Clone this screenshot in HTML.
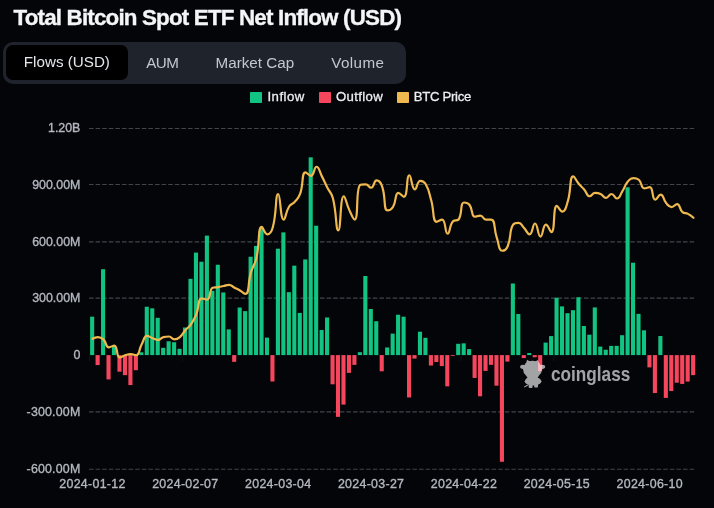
<!DOCTYPE html>
<html><head><meta charset="utf-8"><title>Total Bitcoin Spot ETF Net Inflow (USD)</title>
<style>
html,body{margin:0;padding:0;background:#030509;}
body{width:714px;height:508px;position:relative;overflow:hidden;font-family:"Liberation Sans",sans-serif;color:#fff;}
.title{position:absolute;left:13.5px;top:3.6px;font-size:22.4px;font-weight:700;color:#f4f5f7;-webkit-text-stroke:0.35px #f4f5f7;white-space:nowrap;letter-spacing:-0.83px;line-height:28px;}
.tabs{position:absolute;left:3.1px;top:41.9px;width:402.8px;height:41.8px;background:#1f232b;border-radius:10px;}
.tab{position:absolute;top:0;height:41px;line-height:41px;font-size:15.2px;color:#c3c7cf;white-space:nowrap;}
.tab.on{left:3.1px;top:3.2px;width:121.4px;height:34.8px;line-height:34.6px;background:#000;border-radius:7px;color:#e4e6ea;text-align:center;}
.lg{position:absolute;top:87.8px;height:17px;line-height:17px;font-size:13.2px;color:#eceef1;white-space:nowrap;-webkit-text-stroke:0.3px #eceef1;}
.sq{position:absolute;top:91.8px;width:11.6px;height:11.5px;border-radius:0.8px;}
.ax{font-family:"Liberation Sans",sans-serif;font-size:12.4px;fill:#b4b8bf;stroke:#b4b8bf;stroke-width:0.35px;}
.axx{letter-spacing:0.3px;}
</style></head><body>
<div class="title">Total Bitcoin Spot ETF Net Inflow (USD)</div>
<div class="tabs">
<div class="tab on">Flows (USD)</div>
<div class="tab" style="left:143.1px;letter-spacing:-0.5px">AUM</div>
<div class="tab" style="left:212.5px">Market Cap</div>
<div class="tab" style="left:328.2px;letter-spacing:0.4px">Volume</div>
</div>
<div class="sq" style="left:250.3px;background:#12c482"></div><div class="lg" style="left:267.5px;letter-spacing:0.45px">Inflow</div>
<div class="sq" style="left:319.3px;background:#f6465d"></div><div class="lg" style="left:336px;letter-spacing:0.33px">Outflow</div>
<div class="sq" style="left:397px;background:#f0b94f"></div><div class="lg" style="left:413.8px;letter-spacing:-0.33px">BTC Price</div>
<svg width="714" height="508" viewBox="0 0 714 508" style="position:absolute;left:0;top:0">
<line x1="89" x2="696" y1="128.50" y2="128.50" stroke="#414449" stroke-width="1.1" stroke-dasharray="4.55 2.05"/>
<line x1="89" x2="696" y1="184.50" y2="184.50" stroke="#414449" stroke-width="1.1" stroke-dasharray="4.55 2.05"/>
<line x1="89" x2="696" y1="241.85" y2="241.85" stroke="#414449" stroke-width="1.1" stroke-dasharray="4.55 2.05"/>
<line x1="89" x2="696" y1="298.10" y2="298.10" stroke="#414449" stroke-width="1.1" stroke-dasharray="4.55 2.05"/>
<line x1="89" x2="696" y1="411.90" y2="411.90" stroke="#414449" stroke-width="1.1" stroke-dasharray="4.55 2.05"/>
<line x1="89" x2="696" y1="469.20" y2="469.20" stroke="#414449" stroke-width="1.1" stroke-dasharray="4.55 2.05"/>
<line x1="89.42" x2="89.42" y1="355.6" y2="361" stroke="#10131a" stroke-width="1.1"/>
<line x1="182.30" x2="182.30" y1="355.6" y2="361" stroke="#10131a" stroke-width="1.1"/>
<line x1="275.18" x2="275.18" y1="355.6" y2="361" stroke="#10131a" stroke-width="1.1"/>
<line x1="368.06" x2="368.06" y1="355.6" y2="361" stroke="#10131a" stroke-width="1.1"/>
<line x1="460.95" x2="460.95" y1="355.6" y2="361" stroke="#10131a" stroke-width="1.1"/>
<line x1="553.83" x2="553.83" y1="355.6" y2="361" stroke="#10131a" stroke-width="1.1"/>
<line x1="646.71" x2="646.71" y1="355.6" y2="361" stroke="#10131a" stroke-width="1.1"/>
<line x1="695.88" x2="695.88" y1="355.6" y2="361" stroke="#10131a" stroke-width="1.1"/>
<g fill="#12c482"><rect x="90.10" y="316.68" width="4.1" height="38.42"/><rect x="101.03" y="269.21" width="4.1" height="85.89"/><rect x="111.95" y="346.58" width="4.1" height="8.52"/><rect x="139.27" y="352.30" width="4.1" height="2.80"/><rect x="144.74" y="306.72" width="4.1" height="48.38"/><rect x="150.20" y="308.33" width="4.1" height="46.77"/><rect x="155.66" y="317.81" width="4.1" height="37.29"/><rect x="161.13" y="347.83" width="4.1" height="7.27"/><rect x="166.59" y="341.26" width="4.1" height="13.84"/><rect x="172.05" y="342.23" width="4.1" height="12.87"/><rect x="177.52" y="348.78" width="4.1" height="6.32"/><rect x="182.98" y="327.52" width="4.1" height="27.58"/><rect x="188.45" y="278.83" width="4.1" height="76.27"/><rect x="193.91" y="252.61" width="4.1" height="102.49"/><rect x="199.37" y="261.73" width="4.1" height="93.37"/><rect x="204.84" y="235.62" width="4.1" height="119.48"/><rect x="210.30" y="290.79" width="4.1" height="64.31"/><rect x="215.76" y="264.74" width="4.1" height="90.36"/><rect x="221.23" y="292.45" width="4.1" height="62.65"/><rect x="226.69" y="329.40" width="4.1" height="25.70"/><rect x="237.62" y="307.52" width="4.1" height="47.58"/><rect x="243.08" y="311.13" width="4.1" height="43.97"/><rect x="248.55" y="256.74" width="4.1" height="98.36"/><rect x="254.01" y="245.93" width="4.1" height="109.17"/><rect x="259.47" y="227.65" width="4.1" height="127.45"/><rect x="264.94" y="337.63" width="4.1" height="17.47"/><rect x="275.86" y="248.69" width="4.1" height="106.41"/><rect x="281.33" y="232.38" width="4.1" height="122.72"/><rect x="286.79" y="292.17" width="4.1" height="62.93"/><rect x="292.25" y="265.65" width="4.1" height="89.45"/><rect x="297.72" y="312.89" width="4.1" height="42.21"/><rect x="303.18" y="259.43" width="4.1" height="95.67"/><rect x="308.65" y="157.32" width="4.1" height="197.78"/><rect x="314.11" y="225.70" width="4.1" height="129.40"/><rect x="319.57" y="329.98" width="4.1" height="25.12"/><rect x="325.04" y="317.47" width="4.1" height="37.63"/><rect x="357.82" y="352.19" width="4.1" height="2.91"/><rect x="363.28" y="275.99" width="4.1" height="79.11"/><rect x="368.75" y="309.01" width="4.1" height="46.09"/><rect x="374.21" y="321.22" width="4.1" height="33.88"/><rect x="385.14" y="347.47" width="4.1" height="7.63"/><rect x="390.60" y="333.62" width="4.1" height="21.48"/><rect x="396.06" y="314.71" width="4.1" height="40.39"/><rect x="401.53" y="316.68" width="4.1" height="38.42"/><rect x="417.92" y="331.69" width="4.1" height="23.41"/><rect x="423.38" y="337.82" width="4.1" height="17.28"/><rect x="456.16" y="343.80" width="4.1" height="11.30"/><rect x="461.63" y="343.37" width="4.1" height="11.73"/><rect x="467.09" y="349.12" width="4.1" height="5.98"/><rect x="510.80" y="283.50" width="4.1" height="71.60"/><rect x="516.26" y="314.03" width="4.1" height="41.07"/><rect x="527.19" y="352.96" width="4.1" height="2.14"/><rect x="543.58" y="342.61" width="4.1" height="12.49"/><rect x="549.05" y="336.08" width="4.1" height="19.02"/><rect x="554.51" y="297.75" width="4.1" height="57.35"/><rect x="559.97" y="306.40" width="4.1" height="48.70"/><rect x="565.44" y="313.18" width="4.1" height="41.92"/><rect x="570.90" y="310.21" width="4.1" height="44.89"/><rect x="576.36" y="297.24" width="4.1" height="57.86"/><rect x="581.83" y="325.97" width="4.1" height="29.13"/><rect x="587.29" y="334.68" width="4.1" height="20.42"/><rect x="592.75" y="307.42" width="4.1" height="47.68"/><rect x="598.22" y="346.56" width="4.1" height="8.54"/><rect x="603.68" y="349.74" width="4.1" height="5.36"/><rect x="609.15" y="345.88" width="4.1" height="9.22"/><rect x="614.61" y="345.86" width="4.1" height="9.24"/><rect x="620.07" y="335.21" width="4.1" height="19.89"/><rect x="625.54" y="187.30" width="4.1" height="167.80"/><rect x="631.00" y="262.72" width="4.1" height="92.38"/><rect x="636.46" y="313.90" width="4.1" height="41.20"/><rect x="641.93" y="330.31" width="4.1" height="24.79"/><rect x="658.32" y="336.02" width="4.1" height="19.08"/></g>
<g fill="#f6465d"><rect x="95.56" y="355.10" width="4.1" height="9.97"/><rect x="106.49" y="355.10" width="4.1" height="24.32"/><rect x="117.42" y="355.10" width="4.1" height="16.60"/><rect x="122.88" y="355.10" width="4.1" height="20.06"/><rect x="128.35" y="355.10" width="4.1" height="29.98"/><rect x="133.81" y="355.10" width="4.1" height="15.12"/><rect x="232.15" y="355.10" width="4.1" height="6.74"/><rect x="270.40" y="355.10" width="4.1" height="26.40"/><rect x="330.50" y="355.10" width="4.1" height="29.20"/><rect x="335.96" y="355.10" width="4.1" height="61.74"/><rect x="341.43" y="355.10" width="4.1" height="49.49"/><rect x="346.89" y="355.10" width="4.1" height="17.79"/><rect x="352.35" y="355.10" width="4.1" height="9.77"/><rect x="379.67" y="355.10" width="4.1" height="16.22"/><rect x="406.99" y="355.10" width="4.1" height="42.36"/><rect x="412.45" y="355.10" width="4.1" height="3.52"/><rect x="428.85" y="355.10" width="4.1" height="10.43"/><rect x="434.31" y="355.10" width="4.1" height="6.95"/><rect x="439.77" y="355.10" width="4.1" height="10.98"/><rect x="445.24" y="355.10" width="4.1" height="31.23"/><rect x="450.70" y="355.10" width="4.1" height="0.81"/><rect x="472.55" y="355.10" width="4.1" height="22.83"/><rect x="478.02" y="355.10" width="4.1" height="41.18"/><rect x="483.48" y="355.10" width="4.1" height="15.82"/><rect x="488.95" y="355.10" width="4.1" height="9.77"/><rect x="494.41" y="355.10" width="4.1" height="30.59"/><rect x="499.87" y="355.10" width="4.1" height="106.69"/><rect x="505.34" y="355.10" width="4.1" height="6.51"/><rect x="521.73" y="355.10" width="4.1" height="2.97"/><rect x="532.65" y="355.10" width="4.1" height="2.14"/><rect x="538.12" y="355.10" width="4.1" height="16.03"/><rect x="647.39" y="355.10" width="4.1" height="12.28"/><rect x="652.85" y="355.10" width="4.1" height="37.93"/><rect x="663.78" y="355.10" width="4.1" height="42.81"/><rect x="669.25" y="355.10" width="4.1" height="35.94"/><rect x="674.71" y="355.10" width="4.1" height="27.61"/><rect x="680.17" y="355.10" width="4.1" height="28.84"/><rect x="685.64" y="355.10" width="4.1" height="26.48"/><rect x="691.10" y="355.10" width="4.1" height="20.04"/></g>
<path d="M92.45,338.77C92.45,338.77 95.23,337.07 97.91,337.07C100.69,337.07 101.30,337.40 103.38,339.34C106.76,342.51 105.41,347.29 108.84,347.29C110.88,347.29 112.64,345.59 114.30,345.59C118.11,345.59 116.00,357.51 119.77,357.51C121.47,357.51 122.42,356.11 125.23,355.24C127.88,354.41 127.96,354.10 130.70,354.10C133.43,354.10 134.43,355.24 136.16,355.24C139.90,355.24 138.65,349.70 141.62,344.45C144.11,340.05 143.64,335.93 147.09,335.93C149.10,335.93 149.77,337.19 152.55,338.20C155.24,339.18 155.38,339.91 158.01,339.91C160.85,339.91 160.59,337.70 163.48,337.07C166.05,336.50 166.36,336.50 168.94,336.50C171.83,336.50 171.62,339.34 174.40,339.34C177.08,339.34 177.66,338.90 179.87,337.07C183.13,334.36 182.46,333.54 185.33,330.25C187.92,327.29 188.58,327.79 190.80,324.58C194.05,319.84 194.03,319.69 196.26,314.36C199.49,306.63 197.62,298.46 201.72,298.46C203.08,298.46 205.56,299.59 207.19,299.59C211.02,299.59 208.80,289.03 212.65,287.67C214.26,287.10 215.40,287.52 218.11,287.10C220.87,286.67 220.85,286.53 223.58,285.97C226.31,285.40 226.44,284.83 229.04,284.83C231.91,284.83 231.77,286.25 234.50,287.67C237.24,289.09 237.30,288.98 239.97,290.51C242.76,292.10 244.21,293.92 245.43,293.92C249.67,293.92 247.65,282.96 250.90,272.34C253.11,265.08 254.59,265.51 256.36,258.14C260.05,242.80 257.59,226.91 261.82,226.91C263.05,226.91 264.49,234.30 267.29,234.30C269.95,234.30 271.63,231.61 272.75,227.48C277.10,211.45 275.13,193.98 278.21,193.98C280.59,193.98 280.13,219.53 283.68,219.53C285.60,219.53 285.50,212.33 289.14,206.47C290.97,203.53 292.29,204.58 294.60,201.93C297.75,198.34 298.42,198.45 300.07,193.98C303.88,183.68 301.29,172.41 305.53,172.41C306.76,172.41 308.93,175.81 311.00,175.81C314.39,175.81 313.79,166.73 316.46,166.73C319.25,166.73 319.37,171.46 321.92,176.38C324.83,181.97 324.54,182.12 327.39,187.74C330.00,192.91 331.42,192.40 332.85,197.96C336.89,213.69 335.65,230.32 338.31,230.32C341.11,230.32 339.94,196.25 343.78,196.25C345.41,196.25 346.13,203.25 349.24,209.88C351.59,214.89 353.39,219.53 354.70,219.53C358.86,219.53 355.44,188.52 360.17,184.90C360.91,184.33 363.12,184.33 365.63,184.33C368.58,184.33 368.84,187.74 371.10,187.74C374.31,187.74 373.62,180.36 376.56,180.36C379.08,180.36 380.71,182.43 382.02,186.03C386.18,197.48 383.14,210.45 387.49,210.45C388.60,210.45 391.33,209.66 392.95,207.04C396.79,200.86 394.63,192.85 398.41,192.85C400.09,192.85 402.60,196.82 403.88,196.82C408.07,196.82 406.10,175.25 409.34,175.25C411.56,175.25 411.52,189.44 414.80,189.44C416.99,189.44 416.93,180.92 420.27,180.92C422.39,180.92 424.22,181.66 425.73,184.33C429.68,191.31 428.84,192.17 431.20,200.23C434.31,210.90 432.34,221.80 436.66,221.80C437.81,221.80 440.59,219.53 442.12,219.53C446.06,219.53 444.71,233.73 447.59,233.73C450.17,233.73 449.20,225.30 453.05,221.24C454.67,219.53 457.19,221.24 458.51,219.53C462.65,214.21 459.87,202.50 463.98,202.50C465.34,202.50 467.74,202.56 469.44,204.77C473.21,209.66 471.07,216.69 474.90,216.69C476.54,216.69 477.90,215.56 480.37,215.56C483.36,215.56 482.81,219.53 485.83,219.53C488.27,219.53 490.07,219.53 491.30,219.53C495.54,219.53 493.63,228.76 496.76,237.70C499.09,244.38 498.58,250.76 502.22,250.76C504.05,250.76 506.36,249.38 507.69,246.22C511.83,236.32 508.80,231.27 513.15,224.64C514.27,222.94 516.25,222.94 518.61,222.94C521.71,222.94 521.49,225.36 524.08,228.05C526.95,231.04 527.32,234.30 529.54,234.30C532.78,234.30 532.49,223.51 535.00,223.51C537.95,223.51 537.63,236.57 540.47,236.57C543.10,236.57 542.72,224.64 545.93,224.64C548.18,224.64 550.00,232.03 551.40,232.03C555.46,232.03 552.64,205.91 556.86,205.91C558.10,205.91 560.11,211.58 562.32,211.58C565.58,211.58 566.08,206.85 567.79,201.36C571.55,189.25 569.23,176.38 573.25,176.38C574.69,176.38 575.77,180.25 578.71,183.76C581.24,186.78 581.59,186.48 584.18,189.44C587.05,192.72 586.50,196.25 589.64,196.25C591.96,196.25 592.18,192.85 595.10,192.85C597.64,192.85 598.10,192.85 600.57,193.98C603.56,195.36 603.30,197.96 606.03,197.96C608.76,197.96 608.83,193.98 611.50,193.98C614.30,193.98 614.58,198.52 616.96,198.52C620.04,198.52 619.95,195.00 622.42,191.14C625.41,186.48 624.43,185.62 627.89,181.49C629.89,179.09 630.46,178.08 633.35,178.08C635.92,178.08 636.84,178.08 638.81,179.79C642.30,182.80 640.76,188.30 644.28,188.30C646.22,188.30 648.15,187.17 649.74,187.17C653.62,187.17 651.68,199.66 655.20,199.66C657.14,199.66 658.35,194.55 660.67,194.55C663.81,194.55 662.86,199.32 666.13,203.07C668.32,205.57 668.74,207.04 671.60,207.04C674.20,207.04 674.93,204.20 677.06,204.20C680.39,204.20 679.09,209.28 682.52,212.15C684.56,213.86 685.48,212.55 687.99,213.86C690.94,215.39 693.45,217.83 693.45,217.83" fill="none" stroke="#f0b94f" stroke-width="2.2" stroke-linejoin="round" stroke-linecap="round"/>
<g fill="#ffffff" stroke="none" opacity="0.63">
<ellipse cx="532.50" cy="369.17" rx="9.45" ry="8.50"/>
<ellipse cx="522.98" cy="366.80" rx="2.83" ry="2.13"/>
<ellipse cx="542.35" cy="366.80" rx="2.83" ry="2.13"/>
<polygon points="525.65,364.99 526.99,359.72 530.54,361.84"/>
<polygon points="535.10,361.61 538.02,360.03 539.51,364.99"/>
<polygon points="525.81,375.62 539.20,375.62 537.62,377.59 539.98,379.17 525.81,379.17 527.54,377.59"/>
<ellipse cx="533.06" cy="381.29" rx="8.35" ry="4.25"/>
<rect x="528.65" y="383.10" width="3.94" height="4.80" rx="0.8"/>
<rect x="534.16" y="383.10" width="3.86" height="4.49" rx="0.8"/>
<polygon points="523.92,386.80 527.39,384.60 528.17,385.54 524.39,387.43"/>
<text x="551" y="381" font-family="'Liberation Sans',sans-serif" font-weight="700" font-size="20.4" textLength="79.3" lengthAdjust="spacingAndGlyphs">coinglass</text>
</g>
<text x="80.4" y="131.90" text-anchor="end" class="ax">1.20B</text>
<text x="80.4" y="188.70" text-anchor="end" class="ax">900.00M</text>
<text x="80.4" y="245.50" text-anchor="end" class="ax">600.00M</text>
<text x="80.4" y="302.30" text-anchor="end" class="ax">300.00M</text>
<text x="80.4" y="359.10" text-anchor="end" class="ax">0</text>
<text x="80.4" y="415.90" text-anchor="end" class="ax" style="letter-spacing:0.18px">-300.00M</text>
<text x="80.4" y="472.70" text-anchor="end" class="ax" style="letter-spacing:0.18px">-600.00M</text>
<text x="92.45" y="488.1" text-anchor="middle" class="ax axx">2024-01-12</text>
<text x="185.33" y="488.1" text-anchor="middle" class="ax axx">2024-02-07</text>
<text x="278.21" y="488.1" text-anchor="middle" class="ax axx">2024-03-04</text>
<text x="371.10" y="488.1" text-anchor="middle" class="ax axx">2024-03-27</text>
<text x="463.98" y="488.1" text-anchor="middle" class="ax axx">2024-04-22</text>
<text x="556.86" y="488.1" text-anchor="middle" class="ax axx">2024-05-15</text>
<text x="649.74" y="488.1" text-anchor="middle" class="ax axx">2024-06-10</text>
</svg>
</body></html>
